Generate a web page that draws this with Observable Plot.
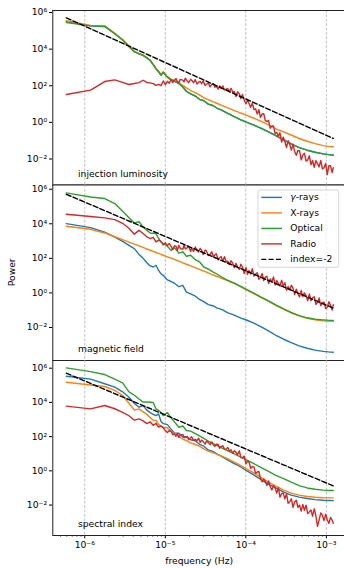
<!DOCTYPE html>
<html><head><meta charset="utf-8">
<script src="https://cdn.jsdelivr.net/npm/d3@7"></script>
<script src="https://cdn.jsdelivr.net/npm/@observablehq/plot@0.6"></script>
<style>
html,body{margin:0;padding:0;background:#fff;}
#fig{position:relative;width:344px;height:568px;overflow:hidden;background:#fff;font-family:"DejaVu Sans",sans-serif;}
#fig svg{position:absolute;left:0;top:0;}
</style></head><body><div id="fig"></div>
<script>
// ---- data ----
const freqStep = 5.9e-7; // Hz, frequency resolution; frequency = k * freqStep
const kGrid = [1,2,3,4,5,6,7,8,9,10,11,12,13,14,15,16,18,20,22,25,28,31,35,40,45,51,58,66,75,85,100,120,145,175,210,260,320,400,500,620,780,980,1230,1550,1800,2066];
const kRadio = [1,2,3,4,5,6,7,8,9,10,11,12,13,14,15,16,17,18,19,
 20,21,22,23,24,25,26,28,29,30,32,33,35,36,38,40,42,44,46,48,50,53,55,58,61,64,67,70,73,77,80,84,88,92,97,101,106,111,117,122,128,134,141,147,154,162,170,178,186,195,204,214,224,235,246,258,270,283,296,310,325,341,357,374,392,410,430,450,472,494,518,543,569,596,624,654,685,718,752,788,826,865,906,950,995,1042,1092,1144,1199,1256,1316,1379,1445,1514,1586,1662,1741,1824,1911,2002,2066];

const seriesNames = ["γ-rays","X-rays","Optical","Radio"];
const seriesColors = ["#1f77b4","#ff7f0e","#2ca02c","#d62728"];
const panelLabels = ["injection luminosity","magnetic field","spectral index"];
const refLabel = "index=-2";
const refFreq = [5.9e-7, 1.22e-3];
const refPower = [5.1e5, 0.132];
const xTickValues = [1e-6,1e-5,1e-4,1e-3];
const yTickValues = [1e-2,1,1e2,1e4,1e6];

// log10(Power) values
const topGamma = [5.50,5.27,5.24,4.84,4.50,4.15,3.86,3.74,3.66,3.52,3.38,3.15,2.92,2.76,2.58,2.74,2.47,2.32,2.25,2.12,1.93,1.70,1.56,1.44,1.26,1.18,1.00,0.92,0.77,0.67,0.50,0.33,0.15,0.00,-0.14,-0.31,-0.50,-0.72,-0.96,-1.17,-1.38,-1.52,-1.63,-1.72,-1.76,-1.78];
const topXray = [5.56,5.30,5.27,4.86,4.52,4.17,3.88,3.76,3.68,3.54,3.40,3.17,2.95,2.79,2.62,2.76,2.50,2.36,2.29,2.17,2.01,1.88,1.74,1.62,1.50,1.34,1.24,1.13,1.03,0.93,0.80,0.66,0.52,0.38,0.24,0.07,-0.12,-0.36,-0.52,-0.69,-0.88,-1.03,-1.16,-1.27,-1.31,-1.33];
const topOptical = [5.45,5.27,5.24,4.84,4.50,4.15,3.86,3.74,3.66,3.52,3.38,3.15,2.92,2.76,2.58,2.74,2.47,2.32,2.25,2.12,1.93,1.70,1.56,1.44,1.26,1.18,1.00,0.92,0.77,0.67,0.50,0.33,0.15,0.00,-0.14,-0.31,-0.50,-0.72,-0.96,-1.17,-1.38,-1.52,-1.63,-1.72,-1.76,-1.78];
const topRadio = [1.52,1.76,2.23,2.32,2.18,2.07,2.12,2.17,2.30,2.18,2.16,2.12,2.02,2.08,2.01,2.26,2.06,2.24,2.14,
 2.33,2.17,2.30,2.39,2.23,2.18,2.35,2.31,2.21,2.41,
 2.24,2.17,2.35,2.30,2.17,2.33,2.09,2.20,2.24,2.11,
 2.26,2.02,2.08,2.15,1.94,2.07,2.11,1.92,1.97,1.82,
 1.99,1.87,1.99,1.77,1.81,1.85,1.67,1.86,1.65,1.68,
 1.41,1.67,1.55,1.30,1.52,1.22,1.02,1.21,1.03,0.82,
 1.06,0.70,0.74,0.46,0.69,0.27,0.46,0.47,0.10,0.05,
 0.10,-0.32,-0.19,-0.20,-0.62,-0.55,-0.75,-0.57,-1.08,-0.81,
 -1.05,-1.37,-1.00,-1.21,-1.51,-1.19,-1.59,-1.80,-1.54,-1.55,
 -2.05,-1.79,-1.69,-2.11,-2.06,-1.82,-2.31,-2.08,-2.45,-2.09,
 -2.25,-2.43,-2.08,-2.54,-2.48,-2.24,-2.85,-2.36,-2.37,-2.74,
 -2.48];

const midGamma = [4.01,3.78,3.52,3.23,2.98,2.75,2.56,2.23,2.00,1.75,1.56,1.50,1.60,1.30,1.10,1.02,0.75,0.66,0.56,0.36,0.44,0.05,-0.06,-0.18,-0.38,-0.50,-0.68,-0.74,-0.88,-0.95,-1.14,-1.27,-1.44,-1.58,-1.73,-1.95,-2.18,-2.45,-2.68,-2.88,-3.06,-3.20,-3.31,-3.38,-3.41,-3.43];
const midXray = [3.86,3.68,3.47,3.25,3.08,2.94,2.82,2.72,2.63,2.54,2.47,2.40,2.34,2.29,2.23,2.18,2.09,2.01,1.94,1.84,1.74,1.66,1.56,1.46,1.36,1.26,1.16,1.05,0.95,0.84,0.71,0.56,0.36,0.16,-0.03,-0.26,-0.47,-0.72,-0.95,-1.16,-1.33,-1.47,-1.56,-1.61,-1.63,-1.64];
const midOptical = [5.79,5.55,5.46,5.17,4.72,4.35,4.05,4.12,3.82,3.62,3.47,3.45,3.43,3.15,2.94,2.86,2.70,2.46,2.62,2.30,2.38,2.12,2.18,1.92,1.80,1.50,1.38,1.22,1.08,0.92,0.74,0.58,0.39,0.19,0.00,-0.23,-0.44,-0.69,-0.92,-1.13,-1.31,-1.44,-1.52,-1.56,-1.58,-1.59];
const midRadio = [4.55,4.42,4.34,4.24,4.03,3.74,3.40,3.62,3.44,3.25,3.14,3.22,2.95,3.05,2.98,2.78,2.90,2.74,2.86,
 2.69,2.51,2.73,2.71,2.46,2.76,2.58,2.52,2.80,2.55,
 2.62,2.70,2.40,2.60,2.40,2.66,2.44,2.37,2.58,2.46,
 2.22,2.48,2.42,2.17,2.22,2.39,2.09,2.20,2.26,1.91,
 2.03,2.10,1.83,2.10,1.79,1.84,1.64,1.86,1.71,1.46,
 1.71,1.48,1.36,1.66,1.50,1.12,1.48,1.08,1.29,1.10,
 1.40,0.98,1.09,1.17,0.79,0.90,1.12,0.72,0.92,0.96,
 0.55,0.81,0.63,0.92,0.46,0.72,0.55,0.39,0.73,0.41,
 0.59,0.16,0.37,0.18,0.45,0.27,-0.10,0.21,-0.05,-0.23,
 0.15,-0.20,0.00,-0.16,-0.45,-0.06,-0.44,-0.28,-0.22,-0.66,
 -0.55,-0.29,-0.73,-0.58,-0.53,-0.91,-0.82,-0.51,-0.72,-0.99,
 -0.68];

const botGamma = [5.53,5.36,5.09,4.89,4.62,4.30,3.94,3.72,3.82,3.55,3.40,3.30,3.23,3.33,2.88,2.76,2.70,2.44,2.22,2.20,1.98,2.00,1.82,1.76,1.55,1.44,1.22,1.14,0.98,0.84,0.64,0.44,0.24,0.00,-0.22,-0.50,-0.78,-1.00,-1.24,-1.42,-1.54,-1.62,-1.68,-1.72,-1.73,-1.74];
const botXray = [5.18,5.02,4.93,4.70,4.42,3.95,3.55,3.62,3.45,3.30,3.12,2.96,2.95,2.72,2.62,2.55,2.52,2.30,2.18,2.00,1.86,1.76,1.64,1.54,1.44,1.28,1.16,1.06,0.96,0.86,0.71,0.52,0.32,0.10,-0.10,-0.38,-0.64,-0.90,-1.13,-1.30,-1.42,-1.50,-1.54,-1.57,-1.58,-1.58];
const botOptical = [6.02,5.80,5.63,5.36,5.14,4.62,4.42,4.20,4.02,4.02,4.01,4.00,3.62,3.53,3.42,3.23,3.40,3.10,2.86,2.55,2.62,2.36,2.32,2.18,2.04,1.90,1.74,1.60,1.48,1.34,1.18,1.00,0.82,0.62,0.44,0.20,-0.02,-0.27,-0.45,-0.66,-0.86,-1.00,-1.08,-1.13,-1.15,-1.15];
const botRadio = [3.78,3.62,3.82,3.63,3.42,3.22,2.96,3.04,2.92,2.76,2.86,2.66,2.78,2.56,2.62,2.52,2.34,2.24,2.36,
 2.31,2.12,2.16,2.02,2.18,1.95,2.10,2.12,1.93,1.96,
 2.01,1.82,1.94,1.99,1.78,1.84,1.76,1.91,1.66,1.80,
 1.71,1.56,1.74,1.65,1.53,1.69,1.51,1.43,1.55,1.54,
 1.32,1.42,1.47,1.27,1.27,1.37,1.14,1.23,1.03,1.17,
 1.08,0.94,1.17,0.78,0.76,0.86,0.40,0.58,0.51,0.15,
 0.25,0.23,-0.15,-0.07,-0.04,-0.44,-0.64,-0.47,-0.62,-0.86,
 -0.59,-0.93,-1.12,-0.86,-1.01,-1.30,-0.98,-1.54,-1.34,-1.29,
 -1.63,-1.35,-1.90,-1.81,-1.63,-2.13,-1.82,-1.72,-2.13,-2.01,
 -2.35,-1.97,-2.30,-2.01,-2.50,-2.40,-2.29,-2.65,-2.22,-2.61,
 -3.25,-2.87,-2.46,-2.59,-2.91,-2.53,-2.86,-3.07,-2.72,-2.89,
 -3.07];

// ---- layout ----
const W = 344, H = 568;
const xDomain = [4.01e-7, 1.79e-3];
const xRange = [52.3, 346.2];
const panels = [
  {label: panelLabels[0], top: 10, bottom: 184.4, yDomain: [10 ** -3.415, 10 ** 6.11], series: [topGamma, topXray, topOptical, topRadio], showX: false, topSpine: true},
  {label: panelLabels[1], top: 184.4, bottom: 360, yDomain: [10 ** -3.91, 10 ** 6.25], series: [midGamma, midXray, midOptical, midRadio], showX: false, topSpine: false},
  {label: panelLabels[2], top: 360, bottom: 535, yDomain: [10 ** -3.78, 10 ** 6.45], series: [botGamma, botXray, botOptical, botRadio], showX: true, topSpine: false}
];

const supMap = {"-":"⁻","0":"⁰","1":"¹","2":"²","3":"³","4":"⁴","5":"⁵","6":"⁶","7":"⁷","8":"⁸","9":"⁹"};
const sup = d => "10" + String(Math.round(Math.log10(d))).split("").map(c => supMap[c]).join("");

function rows(ks, logs) {
  const n = Math.min(ks.length, logs.length);
  const out = [];
  for (let i = 0; i < n; i++) out.push({f: ks[i] * freqStep, p: 10 ** logs[i]});
  return out;
}
const refRows = refFreq.map((f, i) => ({f, p: refPower[i]}));
const minorTicks = d3.scaleLog().domain(xDomain).ticks().filter(t => Math.abs(Math.log10(t) - Math.round(Math.log10(t))) > 1e-6);

const fig = document.getElementById("fig");
const font = "DejaVu Sans";

for (const P of panels) {
  const marks = [
    Plot.ruleX(xTickValues, {stroke: "#b0b0b0", strokeWidth: 0.8, strokeDasharray: "2.8,1.6"})
  ];
  P.series.forEach((vals, i) => {
    const ks = i === 3 ? kRadio : kGrid;
    marks.push(Plot.line(rows(ks, vals), {x: "f", y: "p", stroke: seriesColors[i], strokeWidth: 1.4, clip: true}));
  });
  marks.push(Plot.line(refRows, {x: "f", y: "p", stroke: "black", strokeWidth: 1.4, strokeDasharray: "5,2.3", clip: true}));
  marks.push(Plot.text([P.label], {text: d => d, frameAnchor: "bottom-left", dx: 25.2, dy: -11, textAnchor: "start", lineAnchor: "middle", fontSize: 9.2, fill: "black"}));
  marks.push(Plot.ruleX([xDomain[0]], {stroke: "#222", strokeWidth: 1}));
  marks.push(Plot.ruleY([P.yDomain[0]], {stroke: "#222", strokeWidth: 1.1}));
  if (P.topSpine) marks.push(Plot.ruleY([P.yDomain[1]], {stroke: "#222", strokeWidth: 1.1}));
  if (P.showX) marks.push(Plot.ruleX(minorTicks, {insetTop: P.bottom - P.top, insetBottom: -1.9, stroke: "#222", strokeWidth: 0.6}));

  const svg = Plot.plot({
    width: W, height: H,
    marginLeft: 52.3, marginRight: 0, marginTop: P.top, marginBottom: H - P.bottom,
    style: {background: "transparent", fontFamily: font, fontSize: "9.2px", color: "black", overflow: "visible"},
    x: P.showX
      ? {type: "log", domain: xDomain, range: xRange, ticks: xTickValues, tickFormat: sup, tickSize: 3.3, tickPadding: 2.2, label: null}
      : {type: "log", domain: xDomain, range: xRange, axis: null},
    y: {type: "log", domain: P.yDomain, ticks: yTickValues, tickFormat: sup, tickSize: 3.3, tickPadding: 2.4, label: null},
    marks
  });
  svg.style.position = "absolute";
  svg.style.left = "0px";
  svg.style.top = "0px";
  fig.appendChild(svg);
}

// ---- overlay: legend and axis titles ----
const ov = d3.select(fig).append("svg").attr("width", W).attr("height", H).style("font-family", font);
ov.append("text").attr("transform", "translate(12,272.3) rotate(-90)").attr("text-anchor", "middle").attr("dy", "0.32em").attr("font-size", 9.2).text("Power");
ov.append("text").attr("x", 199.2).attr("y", 561).attr("text-anchor", "middle").attr("dy", "0.32em").attr("font-size", 9.2).text("frequency (Hz)");

const lg = ov.append("g");
lg.append("rect").attr("x", 258).attr("y", 190).attr("width", 80.7).attr("height", 77.3).attr("rx", 2)
  .attr("fill", "white").attr("fill-opacity", 0.8).attr("stroke", "#cccccc").attr("stroke-width", 0.8);
const legendNames = [...seriesNames, refLabel];
const legendColors = [...seriesColors, "black"];
legendNames.forEach((name, i) => {
  const y = 197.4 + i * 15.5;
  lg.append("line").attr("x1", 261.3).attr("x2", 282).attr("y1", y).attr("y2", y)
    .attr("stroke", legendColors[i]).attr("stroke-width", 1.4)
    .attr("stroke-dasharray", i === 4 ? "5,2.3" : null);
  const t = lg.append("text").attr("x", 290.3).attr("y", y).attr("dy", "0.32em").attr("font-size", 9.2);
  if (i === 0) {
    t.append("tspan").attr("font-style", "italic").text(name.slice(0, 1));
    t.append("tspan").text(name.slice(1));
  } else t.text(name);
});
</script></body></html>
